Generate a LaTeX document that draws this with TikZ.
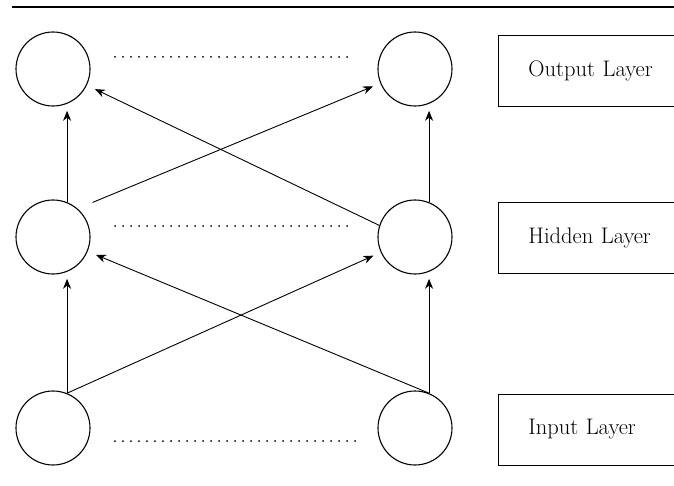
\documentclass[tikz,border=0pt]{standalone}
\usepackage{amsmath}
\usepackage{tikz}
\usetikzlibrary{arrows.meta}

\begin{document}
\begin{tikzpicture}
            [x=1pt,y=1pt,line width=0.9pt,
             neuron/.style={circle,draw,minimum size=74pt,inner sep=0pt,line width=1.1pt},
             layerbox/.style={draw,anchor=west,minimum height=71pt,text width=150pt,inner xsep=30pt,align=left,font=\fontsize{22.5}{26}\selectfont},
             link/.style={-{Stealth[length=10pt,width=8pt]}},
             dotrow/.style={line width=2pt,line cap=round,dash pattern=on 0pt off 8pt}]
            \useasboundingbox (0,0) rectangle (674,485);
            \draw[line width=2.6pt] (12,478) -- (674,478);

            \node[neuron] (O1) at ( 53,416) {};
            \node[neuron] (O2) at (415,416) {};
            \node[neuron] (H1) at ( 53,248) {};
            \node[neuron] (H2) at (415,248) {};
            \node[neuron] (I1) at ( 53, 57) {};
            \node[neuron] (I2) at (415, 57) {};

            \node[layerbox] (Lout) at (498,414) {Output Layer};
            \node[layerbox] (Lhid) at (498,247.5) {Hidden Layer};
            \node[layerbox] (Lin)  at (498,55.5) {Input Layer};

            \draw[dotrow] (115,428) -- (347,428);
            \draw[dotrow] (115,259) -- (347,259);
            \draw[dotrow] (115, 44) -- (355, 44);

            \coordinate (H1out) at ([shift={(13pt,8pt)}]H1.45);

            \draw[link,shorten >=7pt] (I1.68) -- (H1.292);
            \draw[link,shorten >=7pt] (I2.68) -- (H2.292);
            \draw[link,shorten >=7pt] (H1.68) -- (O1.292);
            \draw[link,shorten >=7pt] (H2.68) -- (O2.292);
            \draw[link,shorten >=8pt] (I1.68) -- (H2);
            \draw[link,shorten >=9pt] (I2.68) -- (H1);
            \draw[link,shorten >=9pt] (H2.162) -- (O1);
            \draw[link,shorten >=8pt] (H1out) -- (O2);
        \end{tikzpicture}
\end{document}
